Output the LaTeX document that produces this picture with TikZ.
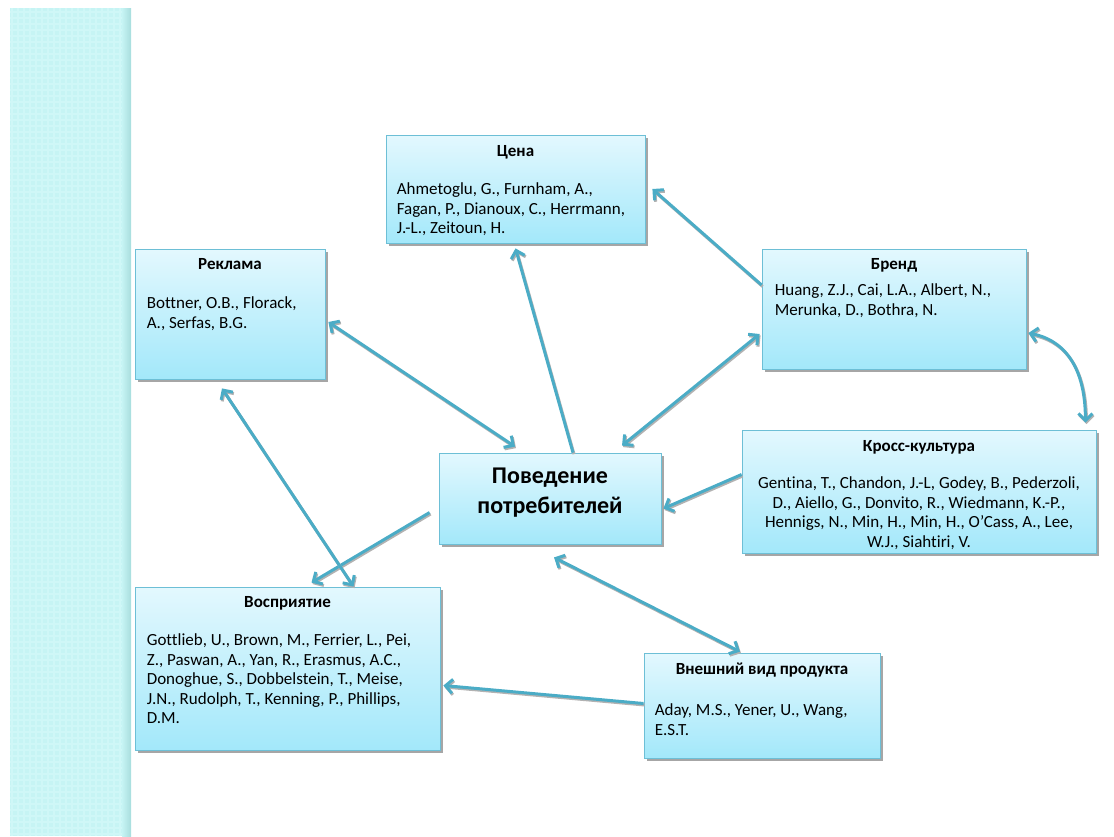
\documentclass[tikz,border=0pt]{standalone}
\usepackage{fontspec}
\setmainfont{Carlito}[Ligatures=NoCommon]
\usetikzlibrary{arrows.meta,shadows,calc}
\definecolor{arrowc}{HTML}{4BACC6}
\definecolor{boxtop}{HTML}{E3F8FE}
\definecolor{boxbot}{HTML}{A3E8FA}
\definecolor{boxline}{HTML}{6DBFD6}
\definecolor{strip}{HTML}{C6F4F4}
\definecolor{stripl}{HTML}{CFF7F7}
\definecolor{stripd}{HTML}{A8DDDD}
\begin{document}
\begin{tikzpicture}[x=1pt,y=-1pt,
  card/.style={draw=boxline, line width=0.8pt, top color=boxtop, bottom color=boxbot, inner sep=0pt,
    drop shadow={shadow xshift=2.5pt, shadow yshift=-3pt, fill=black, opacity=0.35}},
  ttl/.style={inner sep=0pt, anchor=base, font=\bfseries\fontsize{17}{19.5}\selectfont},
  bodytxt/.style={inner sep=0pt, anchor=north west, align=left, font=\fontsize{17}{19.5}\selectfont},
  conn/.style={draw=arrowc, line width=3pt,
    preaction={draw=black!30, line width=3pt, transform canvas={xshift=1pt,yshift=-1.5pt}}},
  onehead/.style={-{Straight Barb[length=7pt,width=14pt]}},
  twohead/.style={{Straight Barb[length=7pt,width=14pt]}-{Straight Barb[length=7pt,width=14pt]}}
]
\useasboundingbox (0,0) rectangle (1114,836);
% left strip
\fill[strip] (10,8) rectangle (131,836);
\draw[stripl, line width=1.2pt, step=6pt] (10,8) grid (124,836);
\shade[left color=strip, right color=stripd] (122,8) rectangle (131,836);

% boxes
\node[card, minimum width=259pt, minimum height=108pt] (price) at (515.5,189) {};
\node[card, minimum width=190pt, minimum height=130pt] (ad) at (230,314) {};
\node[card, minimum width=264pt, minimum height=120pt] (brand) at (894,309) {};
\node[card, minimum width=354pt, minimum height=123pt] (cross) at (919,491.5) {};
\node[card, minimum width=222pt, minimum height=91pt] (cb) at (550,498.5) {};
\node[card, minimum width=305pt, minimum height=163pt] (perc) at (287.5,668.5) {};
\node[card, minimum width=236pt, minimum height=105pt] (look) at (762,705.5) {};

% texts
\node[ttl] (price-t) at ([yshift=-22pt]price.north) {Цена};
\node[bodytxt] (price-b) at ([xshift=11pt,yshift=-48pt]price.north west)
  {Ahmetoglu, G., Furnham, A.,\\ Fagan, P., Dianoux, C., Herrmann,\\ J.-L., Zeitoun, H.};
\node[ttl] (ad-t) at ([yshift=-21pt]ad.north) {Реклама};
\node[bodytxt] (ad-b) at ([xshift=12pt,yshift=-48pt]ad.north west)
  {Bottner, O.B., Florack,\\ A., Serfas, B.G.};
\node[ttl] (brand-t) at ([yshift=-21pt]brand.north) {Бренд};
\node[bodytxt] (brand-b) at ([xshift=13pt,yshift=-35pt]brand.north west)
  {Huang, Z.J., Cai, L.A., Albert, N.,\\ Merunka, D., Bothra, N.};
\node[ttl] (cross-t) at ([yshift=-22pt]cross.north) {Кросс-культура};
\node[bodytxt, anchor=north, align=center] (cross-b) at ([yshift=-47pt]cross.north)
  {Gentina, T., Chandon, J.-L, Godey, B., Pederzoli,\\ D., Aiello, G., Donvito, R., Wiedmann, K.-P.,\\ Hennigs, N., Min, H., Min, H., O'Cass, A., Lee,\\ W.J., Siahtiri, V.};
\node[inner sep=0pt, anchor=north, align=center, font=\bfseries\fontsize{24}{30}\selectfont] (cb-t)
  at ([yshift=-15pt]cb.north) {Поведение\\ потребителей};
\node[ttl] (perc-t) at ([yshift=-21pt]perc.north) {Восприятие};
\node[bodytxt] (perc-b) at ([xshift=12pt,yshift=-47pt]perc.north west)
  {Gottlieb, U., Brown, M., Ferrier, L., Pei,\\ Z., Paswan, A., Yan, R., Erasmus, A.C.,\\ Donoghue, S., Dobbelstein, T., Meise,\\ J.N., Rudolph, T., Kenning, P., Phillips,\\ D.M.};
\node[ttl] (look-t) at ([yshift=-22pt]look.north) {Внешний вид продукта};
\node[bodytxt] (look-b) at ([xshift=11pt,yshift=-51pt]look.north west)
  {Aday, M.S., Yener, U., Wang,\\ E.S.T.};

% connectors
\draw[conn, onehead] ([xshift=23pt]cb.north) -- ([yshift=-5pt]price.south);
\draw[conn, onehead] ([yshift=24pt]brand.west) -- ([xshift=7pt]price.east);
\draw[conn, twohead] ([xshift=3pt,yshift=-8pt]ad.east) -- ([xshift=-35pt,yshift=6pt]cb.north);
\draw[conn, twohead] ([xshift=-2pt,yshift=-25pt]brand.west) -- ([xshift=72pt,yshift=7pt]cb.north);
\draw[conn, onehead] ([yshift=17pt]cross.west) -- ([xshift=2pt,yshift=-10pt]cb.east);
\draw[conn, onehead] ([xshift=-9pt,yshift=-14pt]cb.west) -- ([xshift=24pt,yshift=4pt]perc.north);
\draw[conn, twohead] ([xshift=-8pt,yshift=-9pt]ad.south) -- ([xshift=66pt]perc.north);
\draw[conn, twohead] ([xshift=4pt,yshift=-13pt]cb.south) -- ([xshift=-22pt,yshift=1pt]look.north);
\draw[conn, onehead] ([yshift=2pt]look.west) -- ([xshift=3pt,yshift=-17pt]perc.east);
\draw[conn, twohead] ([xshift=2pt,yshift=-24pt]brand.east) .. controls +(40,8) and +(0,-50) .. ([xshift=-11pt,yshift=7pt]cross.north east);
\end{tikzpicture}
\end{document}
